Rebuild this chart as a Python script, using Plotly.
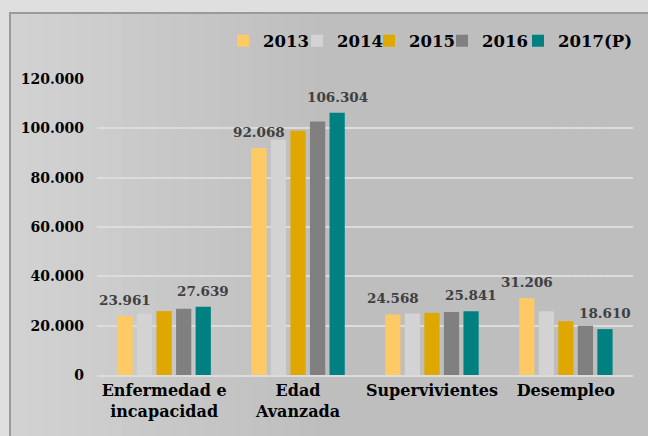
import plotly.graph_objects as go

categories = ["Enfermedad e<br>incapacidad", "Edad<br>Avanzada", "Supervivientes", "Desempleo"]
years = ["2013", "2014", "2015", "2016", "2017(P)"]
v2013 = [23961, 92068, 24568, 31206]
v2014 = [24900, 95400, 24900, 25800]
v2015 = [25900, 99000, 25200, 21800]
v2016 = [26900, 102800, 25500, 20000]
v2017 = [27639, 106304, 25841, 18610]
series = [v2013, v2014, v2015, v2016, v2017]
colors = ["#FFC966", "#D3D3D3", "#DFA800", "#808080", "#008080"]
labelled = {0: v2013, 4: v2017}
tick_vals = [0, 20000, 40000, 60000, 80000, 100000, 120000]

W, H = 648, 436
ML, MR, MT, MB = 97, 15, 79, 60.5
plot_w = W - ML - MR
plot_h = H - MT - MB
bargap = 0.27
FONT = "DejaVu Serif"
legend_px = [223, 297, 369, 442, 518]

def px2paperx(px):
    return (px - ML) / plot_w

def px2papery(py):
    return (H - MB - py) / plot_h

fig = go.Figure()
legend_ids = ["legend", "legend2", "legend3", "legend4", "legend5"]
for name, vals, col, lid in zip(years, series, colors, legend_ids):
    fig.add_trace(go.Bar(x=categories, y=vals, name=name, marker_color=col,
                         marker_line_width=0, hoverinfo="skip", legend=lid))

# background gradient (left lighter -> right darker)
shapes = []
n = 40
x_start, x_end = 10, W + 5
for i in range(n):
    a = x_start + (x_end - x_start) * i / n
    b = x_start + (x_end - x_start) * (i + 1) / n + 1
    t = min(1.0, (a - x_start) / 300)
    c = int(round(210 - (210 - 190) * t))
    col = f"rgb({c},{c},{c})"
    shapes.append(dict(type="rect", xref="paper", yref="paper", layer="below",
                       x0=px2paperx(a), x1=px2paperx(b),
                       y0=px2papery(H + 5), y1=px2papery(13),
                       fillcolor=col, line_width=0))
shapes.append(dict(type="rect", xref="paper", yref="paper", layer="below",
                   x0=px2paperx(10), x1=px2paperx(W + 10),
                   y0=px2papery(H + 10), y1=px2papery(13),
                   fillcolor="rgba(0,0,0,0)", line=dict(color="#9a9a9a", width=2)))

# data labels for 2013 and 2017
cat_px = plot_w / len(categories)
slot = (1 - bargap) * cat_px / len(years)
annotations = []
for idx, vals in labelled.items():
    off = (idx - (len(years) - 1) / 2) * slot
    for cat, v in zip(categories, vals):
        annotations.append(dict(x=cat, y=v, xref="x", yref="y", text=f"{v:,}".replace(",", "."),
                                showarrow=False, yanchor="bottom", xshift=off, yshift=6,
                                font=dict(family=FONT, size=13.5, color="#404040", weight="bold")))

legends = {}
for lid, lx in zip(legend_ids, legend_px):
    legends[lid] = dict(orientation="h", xanchor="left", x=px2paperx(lx), yanchor="middle",
                        y=px2papery(41), bgcolor="rgba(0,0,0,0)",
                        font=dict(family=FONT, size=16.5, color="#000000", weight="bold"),
                        itemclick=False)

fig.update_layout(
    width=W, height=H,
    margin=dict(l=ML, r=MR, t=MT, b=MB, autoexpand=False),
    paper_bgcolor="#dfdfdf",
    plot_bgcolor="rgba(0,0,0,0)",
    barmode="group", bargap=bargap, bargroupgap=0.22,
    separators=",.",
    font=dict(family=FONT, color="#000000"),
    shapes=shapes,
    annotations=annotations,
    showlegend=True,
    **legends,
)
fig.update_xaxes(showgrid=False, showline=True, linecolor="#dcdcdc", linewidth=1.5,
                 ticks="", tickfont=dict(family=FONT, size=16, color="#000000", weight="bold"))
fig.update_yaxes(range=[0, 120000], tickvals=tick_vals, tickformat=",d",
                 showgrid=True, gridcolor="#dcdcdc", gridwidth=1.5, zeroline=False,
                 showline=False, ticks="", ticklabelstandoff=12,
                 tickfont=dict(family=FONT, size=14, color="#000000", weight="bold"))

fig.write_html("out.html", config={"displayModeBar": False},
               post_script="document.body.style.margin='0';")
